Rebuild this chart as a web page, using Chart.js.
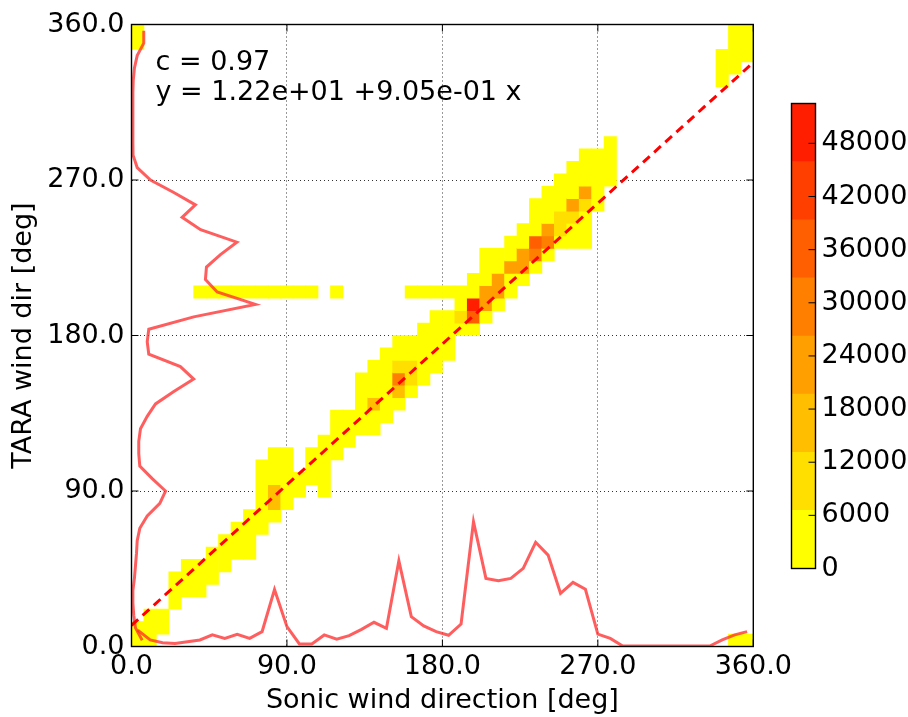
<!DOCTYPE html>
<html>
<head>
<meta charset="utf-8">
<script src="https://cdn.jsdelivr.net/npm/chart.js@4.4.1/dist/chart.umd.min.js"></script>
<style>
  html, body { margin: 0; padding: 0; background: #fff; }
  #wrap { position: relative; width: 908px; height: 717px; }
  #hist { position: absolute; left: 0; top: 0; }
  #cbar { position: absolute; left: 770px; top: 0; }
</style>
</head>
<body>
<div id="wrap">
  <canvas id="hist" width="908" height="717"></canvas>
  <canvas id="cbar" width="138" height="717"></canvas>
</div>
<script>
// 2D histogram of TARA vs sonic wind direction, 50 x 50 bins of 7.2 deg
const binWidth = 7.2;
const nBins = 50;
const tickValues = [0, 90, 180, 270, 360];

// main band: lowest and highest occupied TARA bin for each sonic bin (-1 = empty)
const bandLow = [0, 0, 1, 3, 4, 4, 5, 6, 7, 7,
                 9, 10, 11, 12, 13, 12, 15, 16, 17, 17,
                 18, 19, 20, 21, 22, 23, 25, 25, 26, 27,
                 28, 29, 30, 31, 32, 32, 32, 35, 37, -1,
                 -1, -1, -1, -1, -1, -1, -1, -1, -1, -1];
const bandHigh = [1, 2, 2, 5, 6, 6, 7, 8, 9, 10,
                  14, 15, 15, 13, 15, 16, 18, 18, 21, 22,
                  23, 24, 24, 25, 26, 26, 28, 29, 31, 31,
                  32, 33, 35, 36, 37, 38, 39, 39, 40, -1,
                  -1, -1, -1, -1, -1, -1, -1, -1, -1, -1];

// other occupied bins [sonic bin, TARA bin]
const extraCells = [
  [5, 28], [6, 28], [7, 28], [8, 28], [9, 28], [10, 28], [11, 28], [12, 28], [13, 28], [14, 28],
  [16, 28], [22, 28], [23, 28], [24, 28], [25, 28],
  [0, 48], [0, 49],
  [47, 45], [47, 46], [47, 47], [48, 46], [48, 47], [48, 48], [48, 49], [49, 47], [49, 48], [49, 49],
  [48, 0], [49, 0]
];

// bins with high counts [sonic bin, TARA bin, count]
const hotCells = [
  [11, 11, 16000], [11, 12, 16000],
  [19, 19, 14000],
  [21, 20, 15000], [21, 21, 30000], [21, 22, 10000], [22, 21, 9000], [22, 22, 9000],
  [26, 26, 10000], [27, 26, 38000], [27, 27, 50000],
  [28, 27, 20000], [28, 28, 22000], [29, 28, 20000], [29, 29, 22000],
  [30, 30, 22000], [31, 30, 20000], [31, 31, 22000],
  [32, 31, 28000], [32, 32, 38000], [33, 32, 30000], [33, 33, 22000],
  [34, 33, 12000], [34, 34, 12000], [35, 34, 12000], [35, 35, 22000],
  [36, 35, 10000], [36, 36, 22000]
];
const baseCount = 2500;

// marginal distributions (scaled to axis units) at the bin centres
const sonicMarginal = [9.5, 3.8, 2.2, 1.8, 2.8, 3.8, 6.7, 4.7, 7.0, 4.7,
                       8.6, 33.0, 11.5, 1.5, 1.5, 6.7, 4.3, 6.3, 9.9, 14.0,
                       10.5, 49.6, 17.3, 11.9, 8.6, 6.5, 13.0, 72.2, 39.4, 38.0,
                       39.4, 45.2, 60.3, 52.9, 30.8, 37.1, 33.1, 7.2, 4.7, 0.3,
                       0.3, 0.3, 0.3, 0.3, 0.3, 0.3, 0.3, 3.8, 6.7, 8.6];
const taraMarginal = [6.2, 2.3, 1.3, 0.8, 0.8, 1.7, 2.3, 2.9, 3.3, 4.8,
                      9.1, 16.4, 19.7, 12.0, 4.8, 4.2, 4.2, 5.2, 9.1, 13.9,
                      24.5, 36.0, 28.3, 10.0, 9.1, 10.0, 36.0, 71.7, 49.6, 42.8,
                      43.4, 51.5, 61.0, 40.0, 29.3, 37.0, 24.5, 11.0, 3.3, 0.9,
                      0.8, 0.8, 0.8, 0.8, 0.8, 1.0, 1.7, 3.3, 7.1, 7.1];

// linear fit and correlation
const fitIntercept = 12.2;
const fitSlope = 0.905;
const corrCoef = 0.97;

// colour levels of the histogram
const levelStep = 6562.5;
const levelColors = ['#ffff00', '#ffdf00', '#ffbf00', '#ff9f00', '#ff7f00', '#ff5f00', '#ff3f00', '#ff1f00'];
const cbarTicks = [0, 6000, 12000, 18000, 24000, 30000, 36000, 42000, 48000];

Chart.defaults.font.family = '"DejaVu Sans"';
Chart.defaults.font.size = 27;
Chart.defaults.color = '#000';

// fill the count grid
const counts = [];
for (let i = 0; i < nBins; i++) counts.push(new Array(nBins).fill(0));
bandLow.forEach((lo, i) => {
  if (lo < 0) return;
  for (let j = lo; j <= bandHigh[i]; j++) counts[i][j] = baseCount;
});
extraCells.forEach(([i, j]) => { counts[i][j] = baseCount; });
hotCells.forEach(([i, j, c]) => { counts[i][j] = c; });

function levelOf(c) {
  return Math.min(levelColors.length - 1, Math.floor(c / levelStep));
}

// one floating bar per vertical run of equal colour
const cells = [];
for (let i = 0; i < nBins; i++) {
  let j = 0;
  while (j < nBins) {
    if (!counts[i][j]) { j++; continue; }
    const lv = levelOf(counts[i][j]);
    let k = j;
    while (k + 1 < nBins && counts[i][k + 1] && levelOf(counts[i][k + 1]) === lv) k++;
    cells.push({ x: (i + 0.5) * binWidth, y: [j * binWidth, (k + 1) * binWidth], level: lv });
    j = k + 1;
  }
}

const sonicLine = sonicMarginal.map((v, k) => ({ x: (k + 0.5) * binWidth, y: v }));
const taraLine = taraMarginal.map((v, k) => ({ x: v, y: (k + 0.5) * binWidth }));
const fitLine = [0, 360].map(x => ({ x: x, y: fitIntercept + fitSlope * x }));

function fmtExp(v) {
  return v.toExponential(2).replace(/e([+-])(\d)$/, 'e$10$2');
}

const histFrame = {
  id: 'histFrame',
  afterDatasetsDraw(chart) {
    const { ctx, chartArea: a, scales: { x, y } } = chart;
    ctx.save();
    ctx.strokeStyle = '#000';
    ctx.lineWidth = 1;
    tickValues.forEach(v => {
      const px = x.getPixelForValue(v);
      const py = y.getPixelForValue(v);
      ctx.beginPath();
      ctx.moveTo(px, a.bottom); ctx.lineTo(px, a.bottom - 7);
      ctx.moveTo(px, a.top); ctx.lineTo(px, a.top + 7);
      ctx.moveTo(a.left, py); ctx.lineTo(a.left + 7, py);
      ctx.moveTo(a.right, py); ctx.lineTo(a.right - 7, py);
      ctx.stroke();
    });
    ctx.lineWidth = 1.4;
    ctx.strokeRect(a.left, a.top, a.right - a.left, a.bottom - a.top);

    ctx.font = '27px "DejaVu Sans"';
    ctx.fillStyle = '#000';
    ctx.textBaseline = 'alphabetic';
    ctx.fillText('c = ' + corrCoef.toFixed(2), a.left + 24, a.top + 45.5);
    ctx.fillText('y = ' + fmtExp(fitIntercept) + ' +' + fmtExp(fitSlope) + ' x', a.left + 24, a.top + 75);
    ctx.restore();
  }
};

new Chart(document.getElementById('hist'), {
  type: 'bar',
  data: {
    datasets: [
      {
        type: 'line', data: fitLine, order: 1,
        borderColor: '#ff0000', borderWidth: 3, borderDash: [9, 6],
        pointRadius: 0, fill: false
      },
      {
        type: 'line', data: sonicLine, order: 2,
        borderColor: 'rgba(255, 40, 40, 0.75)', borderWidth: 3,
        pointRadius: 0, fill: false
      },
      {
        type: 'line', data: taraLine, order: 2,
        borderColor: 'rgba(255, 40, 40, 0.75)', borderWidth: 3,
        pointRadius: 0, fill: false
      },
      {
        type: 'bar', data: cells, order: 3,
        backgroundColor: ctx => levelColors[ctx.raw ? ctx.raw.level : 0],
        borderWidth: 0, barPercentage: 1, categoryPercentage: 1, grouped: false
      }
    ]
  },
  options: {
    responsive: false,
    animation: false,
    events: [],
    layout: { padding: { left: 0, right: 154.7, top: 24.5, bottom: 0 } },
    plugins: { legend: { display: false }, tooltip: { enabled: false } },
    scales: {
      x: {
        type: 'linear', min: 0, max: 360, offset: false,
        grid: { offset: false, color: '#333', lineWidth: 1, drawTicks: false },
        border: { display: false, dash: [1, 3] },
        afterBuildTicks: s => { s.ticks = tickValues.map(v => ({ value: v })); },
        ticks: { padding: 4, maxRotation: 0, autoSkip: false, callback: v => v.toFixed(1) },
        title: { display: true, text: 'Sonic wind direction [deg]', padding: 0 },
        afterFit: s => { s.height = 70.5; }
      },
      y: {
        type: 'linear', min: 0, max: 360,
        grid: { color: '#333', lineWidth: 1, drawTicks: false },
        border: { display: false, dash: [1, 3] },
        afterBuildTicks: s => { s.ticks = tickValues.map(v => ({ value: v })); },
        ticks: { padding: 7, callback: v => v.toFixed(1) },
        title: { display: true, text: 'TARA wind dir [deg]', padding: { top: 8, bottom: 0 } },
        afterFit: s => { s.width = 131.5; }
      }
    }
  },
  plugins: [histFrame]
});

const cbarFrame = {
  id: 'cbarFrame',
  afterDatasetsDraw(chart) {
    const { ctx, chartArea: a, scales: { y } } = chart;
    ctx.save();
    ctx.strokeStyle = '#000';
    ctx.lineWidth = 1;
    cbarTicks.forEach(v => {
      const py = y.getPixelForValue(v);
      ctx.beginPath();
      ctx.moveTo(a.right, py); ctx.lineTo(a.right - 7, py);
      ctx.stroke();
    });
    ctx.lineWidth = 1.4;
    ctx.strokeRect(a.left, a.top, a.right - a.left, a.bottom - a.top);
    ctx.restore();
  }
};

new Chart(document.getElementById('cbar'), {
  type: 'bar',
  data: {
    labels: ['count'],
    datasets: levelColors.map((c, k) => ({
      data: [[k * levelStep, (k + 1) * levelStep]],
      backgroundColor: c, borderWidth: 0,
      barPercentage: 1, categoryPercentage: 1, grouped: false
    }))
  },
  options: {
    responsive: false,
    animation: false,
    events: [],
    layout: { padding: { left: 21.5, right: 0, top: 103.5, bottom: 148.5 } },
    plugins: { legend: { display: false }, tooltip: { enabled: false } },
    scales: {
      x: { display: false },
      y: {
        position: 'right', min: 0, max: levelStep * levelColors.length,
        grid: { display: false, drawTicks: false },
        border: { display: false },
        afterBuildTicks: s => { s.ticks = cbarTicks.map(v => ({ value: v })); },
        ticks: { padding: 6, callback: v => String(v) },
        afterFit: s => { s.width = 92.5; }
      }
    }
  },
  plugins: [cbarFrame]
});
</script>
</body>
</html>
